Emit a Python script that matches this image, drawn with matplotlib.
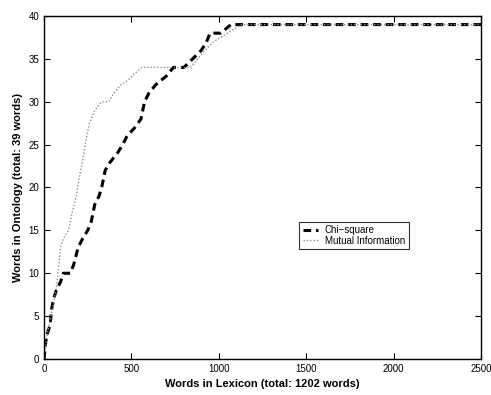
import matplotlib
matplotlib.use('Agg')
import matplotlib.pyplot as plt

# Chi-square curve (words in lexicon vs words in ontology)
chi_x = [0, 10, 20, 35, 45, 55, 70, 95, 110, 150, 170, 195, 220, 250, 270, 290,
         315, 330, 350, 380, 420, 450, 475, 520, 555, 575, 600, 640, 700, 740,
         800, 850, 900, 930, 950, 1010, 1070, 1100, 2500]
chi_y = [0, 2, 3, 4, 6, 7, 8, 9, 10, 10, 11, 13, 14, 15, 16, 18,
         19, 20, 22, 23, 24, 25, 26, 27, 28, 30, 31, 32, 33, 34,
         34, 35, 36, 37, 38, 38, 39, 39, 39]

# Mutual information curve
mi_x = [0, 20, 40, 60, 75, 85, 95, 110, 140, 160, 185, 200, 220, 235, 245, 260,
        290, 330, 370, 400, 440, 480, 520, 560, 840, 880, 920, 970, 1020, 1080,
        1130, 2500]
mi_y = [0, 3, 5, 7, 9, 11, 13, 14, 15, 17, 19, 21, 23, 25, 26, 27.5,
        29, 30, 30, 31, 32, 32.5, 33.3, 34, 34, 35, 36, 37, 37.6, 38.4,
        39, 39]

plt.rcParams['font.family'] = ['Liberation Sans', 'DejaVu Sans']

fig = plt.figure(figsize=(4.91, 3.95), dpi=100)
ax = fig.add_axes([44 / 491, 36 / 395, 437 / 491, 343 / 395])

ax.plot(chi_x, chi_y, color='black', linestyle=(0, (2.5, 1.6)), linewidth=2.2,
        label='Chi\u2212square')
ax.plot(mi_x, mi_y, color='0.55', linestyle=(0, (1, 1.4)), linewidth=1.0,
        label='Mutual Information')

ax.set_xlim(0, 2500)
ax.set_ylim(0, 40)
ax.set_xticks([0, 500, 1000, 1500, 2000, 2500])
ax.set_yticks([0, 5, 10, 15, 20, 25, 30, 35, 40])
ax.tick_params(direction='in', top=True, right=True, labelsize=7, length=4, width=0.8)
for s in ax.spines.values():
    s.set_linewidth(1.0)

ax.set_xlabel('Words in Lexicon (total: 1202 words)', fontsize=8, fontweight='bold')
ax.set_ylabel('Words in Ontology (total: 39 words)', fontsize=8, fontweight='bold')

leg = ax.legend(loc='lower left', bbox_to_anchor=(0.584, 0.32), fontsize=7,
                frameon=True, fancybox=False, edgecolor='black', handlelength=1.6,
                borderpad=0.35, labelspacing=0.05, handletextpad=0.7, borderaxespad=0)
leg.get_frame().set_linewidth(0.8)

plt.savefig('out.png', dpi=100)
